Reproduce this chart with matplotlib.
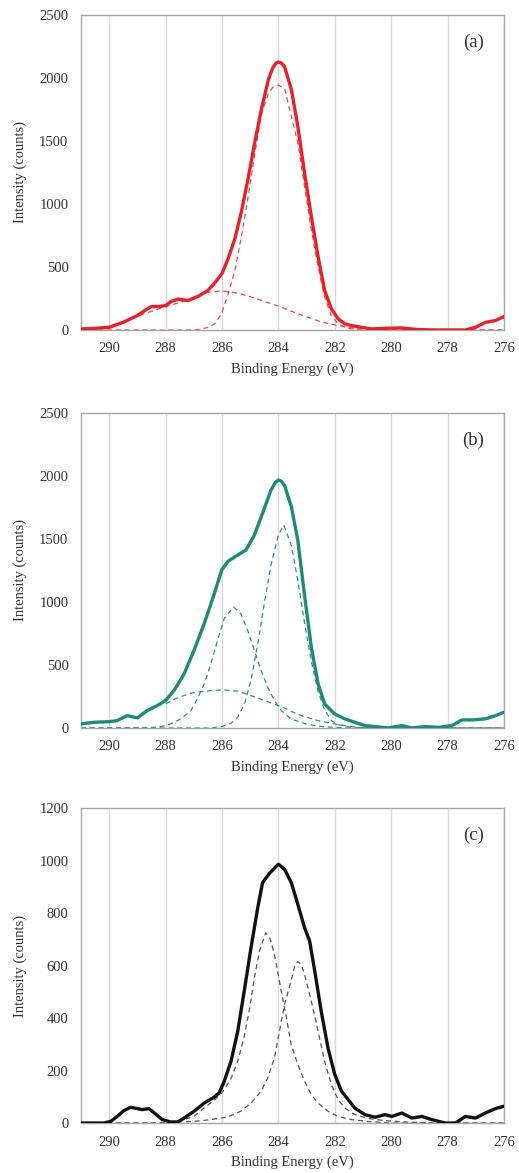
import numpy as np
import matplotlib
matplotlib.use('Agg')
import matplotlib.pyplot as plt

plt.rcParams['font.family'] = ['Liberation Serif', 'DejaVu Serif']

# ---- panel (a) ----
a_be = [291.0, 290.6, 290.0, 289.5, 289.0, 288.7, 288.5, 288.2, 288.0, 287.8, 287.56, 287.2,
        286.85, 286.5, 286.26, 286.0, 285.78, 285.54, 285.31, 285.07, 284.83, 284.59, 284.35,
        284.2, 284.08, 284.0, 283.9, 283.78, 283.54, 283.31, 283.07, 282.83, 282.59, 282.36,
        282.12, 281.88, 281.64, 281.41, 281.05, 280.69, 280.22, 279.62, 279.03, 278.43, 277.84,
        277.37, 277.01, 276.65, 276.3, 276.0]
a_int = [8, 12, 21, 61, 114, 160, 186, 186, 194, 226, 245, 234,
         266, 314, 372, 447, 567, 726, 939, 1205, 1498, 1764, 1990,
         2080, 2118, 2126, 2120, 2090, 1910, 1617, 1245, 899, 580, 314,
         168, 88, 48, 35, 21, 8, 13, 16, 3, 0, 0,
         0, 21, 61, 75, 106]

a_c1_be = [291.0, 287.0, 286.73, 286.49, 286.26, 286.02, 285.78, 285.54, 285.31, 285.07, 284.83,
           284.59, 284.35, 284.2, 284.0, 283.78, 283.54, 283.31, 283.07, 282.83, 282.59, 282.36,
           282.12, 281.88, 281.64, 281.41, 281.05, 276.0]
a_c1 = [0, 0, 8, 21, 48, 128, 287, 473, 740, 1059, 1404,
        1724, 1880, 1925, 1942, 1920, 1697, 1484, 1138, 793, 500, 261,
        114, 48, 21, 8, 0, 0]

a_c2_be = [291.0, 290.0, 289.0, 288.0, 287.0, 286.5, 286.0, 285.5, 285.0, 284.6, 284.0, 283.5,
           283.0, 282.5, 282.0, 281.5, 281.0, 280.5, 276.0]
a_c2 = [5, 20, 110, 185, 250, 300, 310, 295, 265, 234, 190, 145,
        105, 65, 40, 20, 7, 0, 0]

# ---- panel (b) ----
b_be = [291.02, 290.55, 290.0, 289.72, 289.36, 289.0, 288.65, 288.29, 288.0, 287.7, 287.34,
        286.99, 286.63, 286.27, 286.01, 285.8, 285.44, 285.15, 284.85, 284.56, 284.26, 284.1,
        284.0, 283.9, 283.78, 283.54, 283.31, 283.07, 282.83, 282.59, 282.36, 282.0, 281.64,
        281.29, 280.93, 280.57, 280.1, 279.62, 279.27, 278.79, 278.32, 277.84, 277.49, 277.13,
        276.66, 276.3, 276.0]
b_int = [32, 45, 50, 58, 98, 80, 138, 178, 218, 297, 430,
         616, 828, 1067, 1253, 1320, 1373, 1412, 1531, 1704, 1890, 1950,
         1969, 1960, 1925, 1757, 1490, 1050, 640, 350, 191, 111, 72,
         45, 19, 11, 0, 19, 0, 11, 5, 19, 64, 64,
         72, 98, 125]

b_c1_be = [291.0, 286.39, 286.0, 285.68, 285.44, 285.2, 284.97, 284.73, 284.5, 284.26, 284.0,
           283.81, 283.54, 283.31, 283.07, 282.83, 282.59, 282.36, 282.12, 281.88, 281.4, 281.0, 276.0]
b_c1 = [0, 0, 11, 37, 85, 191, 377, 669, 987, 1295, 1531,
        1611, 1450, 1170, 830, 530, 290, 140, 58, 27, 5, 0, 0]

b_c2_be = [291.0, 288.3, 288.0, 287.82, 287.46, 287.1, 286.87, 286.63, 286.39, 286.16, 285.92,
           285.59, 285.33, 285.09, 284.85, 284.61, 284.38, 284.14, 283.9, 283.55, 283.0, 282.5,
           282.0, 281.5, 276.0]
b_c2 = [0, 5, 19, 32, 72, 138, 231, 350, 510, 695, 868,
        961, 908, 775, 616, 456, 324, 218, 138, 72, 30, 12,
        4, 0, 0]

b_c3_be = [288.3, 288.0, 287.58, 287.1, 286.63, 286.0, 285.44, 284.97, 284.5, 284.0, 283.78,
           283.5, 283.19, 282.59, 282.0, 281.4, 280.8, 276.0]
b_c3 = [180, 191, 239, 276, 292, 303, 292, 257, 218, 178, 158,
        128, 98, 58, 32, 11, 0, 0]

# ---- panel (c) ----
c_be = [291.02, 290.19, 289.95, 289.72, 289.48, 289.24, 289.0, 288.83, 288.59, 288.35, 288.12,
        287.82, 287.58, 287.34, 286.99, 286.63, 286.28, 286.1, 285.92, 285.68, 285.44, 285.21,
        284.97, 284.73, 284.56, 284.32, 284.0, 283.78, 283.54, 283.31, 283.07, 282.89, 282.71,
        282.48, 282.24, 282.0, 281.76, 281.52, 281.29, 280.93, 280.57, 280.22, 279.98, 279.62,
        279.27, 278.91, 278.56, 278.08, 277.72, 277.37, 277.01, 276.66, 276.3, 276.0]
c_int = [0, 0, 6, 25, 47, 60, 55, 51, 55, 34, 13,
         4, 4, 19, 45, 76, 98, 115, 159, 235, 350, 503,
         668, 821, 916, 951, 986, 967, 916, 833, 744, 693, 579,
         426, 286, 185, 121, 89, 57, 32, 22, 32, 25, 38,
         19, 25, 13, 0, 0, 25, 19, 38, 55, 64]

c_c1_be = [291.0, 288.0, 287.5, 287.0, 286.6, 286.3, 286.0, 285.7, 285.44, 285.21, 285.03,
           284.85, 284.67, 284.45, 284.3, 284.14, 283.9, 283.72, 283.55, 283.31, 283.07, 282.83,
           282.59, 282.24, 281.88, 281.4, 280.8, 280.0, 276.0]
c_c1 = [0, 0, 8, 25, 60, 85, 115, 165, 235, 330, 430,
        554, 655, 725, 705, 643, 503, 405, 300, 223, 159, 108,
        76, 45, 25, 13, 6, 0, 0]

c_c2_be = [291.0, 288.5, 287.0, 286.4, 285.8, 285.33, 284.97, 284.61, 284.38, 284.14, 283.96,
           283.78, 283.55, 283.43, 283.31, 283.19, 283.07, 282.83, 282.59, 282.36, 282.12, 281.88,
           281.64, 281.29, 280.81, 280.22, 279.5, 278.5, 276.0]
c_c2 = [0, 0, 6, 13, 23, 45, 76, 121, 172, 248, 350,
        452, 541, 595, 615, 605, 566, 464, 350, 235, 146, 89,
        57, 32, 17, 9, 4, 0, 0]

panels = [
    ('(a)', '#e8202a', '#ee4a50', (a_be, a_int), [(a_c1_be, a_c1), (a_c2_be, a_c2)], 2500, 500),
    ('(b)', '#1f8a7a', '#2e8f82', (b_be, b_int), [(b_c1_be, b_c1), (b_c2_be, b_c2), (b_c3_be, b_c3)], 2500, 500),
    ('(c)', '#111111', '#555555', (c_be, c_int), [(c_c1_be, c_c1), (c_c2_be, c_c2)], 1200, 200),
]

fig = plt.figure(figsize=(5.19, 11.73), dpi=100)
bottoms = [0.7187, 0.3794, 0.0426]

for (tag, col, dcol, main, comps, ymax, ystep), b in zip(panels, bottoms):
    ax = fig.add_axes([0.156, b, 0.815, 0.2685])
    for be, y in comps:
        ax.plot(be, y, color=dcol, lw=0.9, dashes=(4, 3), zorder=2)
    ax.plot(main[0], main[1], color=col, lw=2.4, zorder=3,
            solid_joinstyle='round', solid_capstyle='round')
    ax.set_xlim(291, 276)
    ax.set_ylim(0, ymax)
    ax.set_xticks(np.arange(290, 275, -2))
    ax.set_yticks(np.arange(0, ymax + 1, ystep))
    ax.grid(axis='x', color='#d9d9d9', lw=1.0)
    ax.set_axisbelow(True)
    for s in ax.spines.values():
        s.set_color('#a6a6a6')
        s.set_linewidth(1.0)
    ax.tick_params(length=0, labelsize=10.5, colors='#333333', pad=9)
    ax.set_xlabel('Binding Energy (eV)', fontsize=10.5, color='#333333', labelpad=5)
    ax.set_ylabel('Intensity (counts)', fontsize=10.5, color='#333333', labelpad=9)
    ax.text(0.927, 0.914, tag, transform=ax.transAxes, ha='center', va='center',
            fontsize=13.5, color='#333333')

fig.savefig('out.png', dpi=100)
